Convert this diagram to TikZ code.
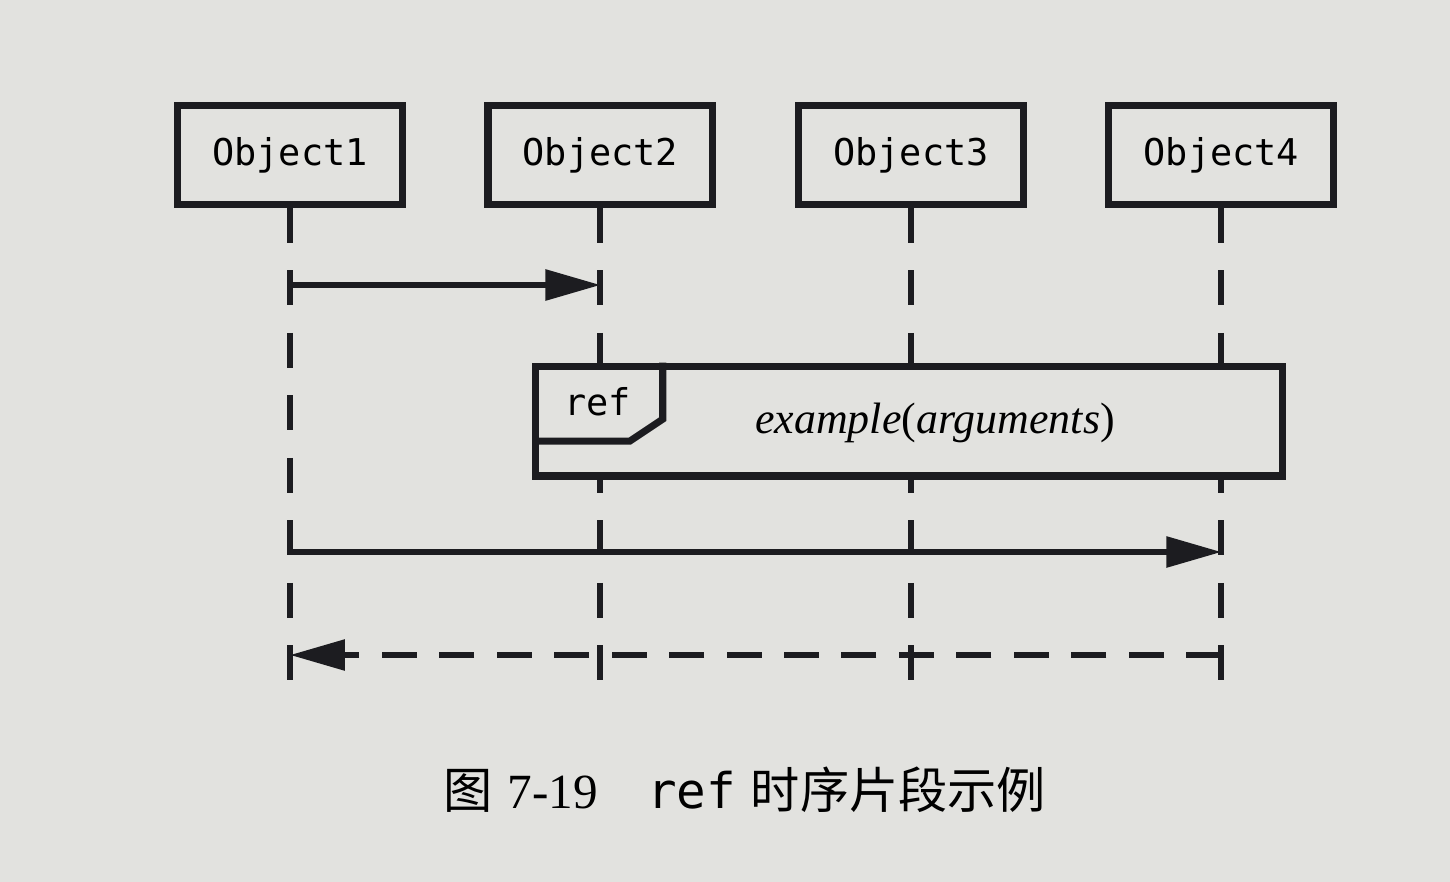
\documentclass[tikz,border=0pt]{standalone}
\usepackage{fontspec}
\newfontfamily\objfont{DejaVu Sans Mono}
\newfontfamily\cjkfont{Noto Sans CJK SC}
\newfontfamily\sigfont{Liberation Serif}
\usetikzlibrary{arrows.meta,positioning,calc}
\definecolor{paper}{RGB}{226,226,223}
\definecolor{ink}{RGB}{28,28,32}

\begin{document}
\begin{tikzpicture}[
  x=0.02cm, y=-0.02cm,
  node distance=1.57cm,
  objbox/.style={draw=ink, line width=4pt, fill=paper, minimum width=4.5cm,
                 minimum height=1.98cm, font=\objfont\fontsize{21}{25}\selectfont},
  lifeline/.style={draw=ink, line width=3.4pt, dash pattern=on 0.7cm off 0.55cm},
  msg/.style={draw=ink, line width=3.3pt, -{Triangle[length=1.1cm,width=0.6cm]}},
  reply/.style={msg, dash pattern=on 0.7cm off 0.45cm},
  fragbox/.style={draw=ink, line width=4pt, fill=paper},
  >=Stealth
]
\path[use as bounding box, fill=paper] (0,0) rectangle (1450,882);

% objects
\node[objbox] (obj1) at (290,155) {Object1};
\node[objbox, right=of obj1] (obj2) {Object2};
\node[objbox, right=of obj2] (obj3) {Object3};
\node[objbox, right=of obj3] (obj4) {Object4};

% lifelines
\foreach \o in {obj1,obj2,obj3,obj4} {
  \coordinate (\o end) at (\o |- 0,705);
  \draw[lifeline] (\o.south) -- (\o end);
}

% ref fragment
\node[fragbox, minimum width=14.94cm, minimum height=2.2cm] (frag) at (909,421) {};
\node[anchor=north west, minimum width=2.6cm, minimum height=1.56cm, inner sep=0pt,
      font=\objfont\fontsize{21}{25}\selectfont] (reftag) at (frag.north west) {ref};
\draw[ink, line width=4pt] (reftag.north east) -- ($(reftag.south east)+(0,-22)$)
  -- ($(reftag.south east)+(-33,0)$) -- (reftag.south west);
\node[font=\sigfont\fontsize{25}{30}\selectfont] (sig) at (935,423) {\textit{example}(\textit{arguments})};

% messages
\coordinate (m1a) at (obj1 |- 0,285);
\coordinate (m1b) at (obj2 |- 0,285);
\draw[msg] (m1a) -- (m1b);
\coordinate (m2a) at (obj1 |- 0,552);
\coordinate (m2b) at (obj4 |- 0,552);
\draw[msg] (m2a) -- (m2b);
\coordinate (m3a) at (obj4 |- 0,655);
\coordinate (m3b) at (obj1 |- 0,655);
\draw[reply] (m3a) -- (m3b);

% caption
\node[font=\fontsize{28}{32}\selectfont] (cap) at (745,790)
  {{\cjkfont 图} {\sigfont 7-19}\quad{\objfont ref} {\cjkfont 时序片段示例}};
\end{tikzpicture}
\end{document}
